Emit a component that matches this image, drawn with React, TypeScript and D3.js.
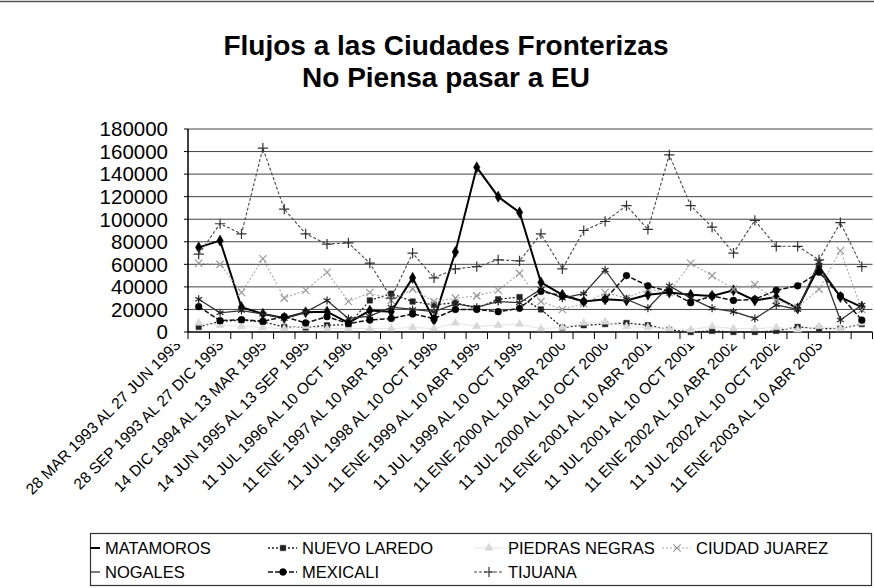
import React from 'react';
import * as d3 from 'd3';

const W = 874;
const H = 588;

// etiquetas del eje (una cada dos periodos)
const tickLabels = [
  '28 MAR 1993 AL 27 JUN 1993',
  '28 SEP 1993 AL 27 DIC 1993',
  '14 DIC 1994 AL 13 MAR 1995',
  '14 JUN 1995 AL 13 SEP 1995',
  '11 JUL 1996 AL 10 OCT 1996',
  '11 ENE 1997 AL 10 ABR 1997',
  '11 JUL 1998 AL 10 OCT 1998',
  '11 ENE 1999 AL 10 ABR 1999',
  '11 JUL 1999 AL 10 OCT 1999',
  '11 ENE 2000 AL 10 ABR 2000',
  '11 JUL 2000 AL 10 OCT 2000',
  '11 ENE 2001 AL 10 ABR 2001',
  '11 JUL 2001 AL 10 OCT 2001',
  '11 ENE 2002 AL 10 ABR 2002',
  '11 JUL 2002 AL 10 OCT 2002',
  '11 ENE 2003 AL 10 ABR 2003',
];

const yTicks = [0, 20000, 40000, 60000, 80000, 100000, 120000, 140000, 160000, 180000];

const matamoros = [75000, 81000, 22000, 16000, 12500, 17500, 18000, 8000, 19000, 18000, 48000, 10500, 71000, 146000, 120000, 106000, 44000, 33000, 27000, 29000, 28000, 33000, 35000, 33000, 32000, 37000, 28000, 31000, 21000, 58000, 31000, 22000];
const nuevoLaredo = [4500, 9500, 10500, 9000, 4500, 4000, 6000, 6500, 28000, 34000, 27000, 24000, 26000, 21000, 29000, 31000, 20000, 4000, 6000, 7000, 8000, 6000, 2000, 0, 1000, 0, 0, 1000, 4500, 3000, 3000, 7000];
const piedrasNegras = [8000, 6000, 5000, 4000, 3000, 5000, 3000, 3000, 3000, 3000, 4000, 3000, 8000, 5000, 6000, 7000, 3000, 4000, 8000, 9000, 5000, 4000, 3000, 2000, 5000, 3000, 3000, 4000, 2000, 5000, 3000, 8000];
const ciudadJuarez = [61000, 60000, 35000, 65000, 30000, 37000, 53000, 27000, 35000, 28000, 38000, 27000, 30000, 32000, 37000, 52000, 27000, 20000, 25000, 35000, 30000, 38000, 35000, 61000, 50000, 38000, 42000, 28000, 22000, 38000, 72000, 20000];
const nogales = [29000, 17000, 19000, 16000, 12000, 17700, 28000, 12000, 14000, 22000, 20000, 18000, 25000, 22000, 27000, 26000, 38000, 30000, 34000, 55000, 29000, 21000, 41000, 30000, 21000, 18000, 12000, 24000, 20000, 62000, 10600, 24000];
const mexicali = [22500, 10000, 11000, 9500, 13600, 8000, 13600, 7500, 10600, 12000, 16000, 12000, 20000, 20000, 18000, 21000, 36000, 32000, 27000, 29000, 50000, 41000, 36000, 26000, 32000, 28000, 29000, 37000, 41000, 53000, 32000, 10600];
const tijuana = [69000, 96000, 87000, 163000, 109000, 87000, 78000, 79000, 61000, 30000, 70000, 48000, 56000, 58000, 64000, 63000, 87000, 56000, 90000, 98000, 112000, 91000, 157000, 112000, 93000, 70000, 99000, 76000, 76000, 64000, 97000, 58000];

type Serie = {
  name: string;
  values: number[];
  stroke: string;
  width: number;
  dash?: string;
  symbol: d3.SymbolType;
  size: number;
  filled: boolean;
  mark: string;
};

const series: Serie[] = [
  { name: 'MATAMOROS', values: matamoros, stroke: '#000', width: 2, symbol: d3.symbolDiamond, size: 36, filled: true, mark: '#000' },
  { name: 'NUEVO LAREDO', values: nuevoLaredo, stroke: '#222', width: 1.3, dash: '2,2', symbol: d3.symbolSquare, size: 30, filled: true, mark: '#222' },
  { name: 'PIEDRAS NEGRAS', values: piedrasNegras, stroke: '#e4e4e4', width: 1, symbol: d3.symbolTriangle, size: 28, filled: true, mark: '#d8d8d8' },
  { name: 'CIUDAD JUAREZ', values: ciudadJuarez, stroke: '#a8a8a8', width: 1.1, dash: '2,2', symbol: d3.symbolTimes, size: 36, filled: false, mark: '#999' },
  { name: 'NOGALES', values: nogales, stroke: '#333', width: 1.3, symbol: d3.symbolAsterisk, size: 44, filled: false, mark: '#222' },
  { name: 'MEXICALI', values: mexicali, stroke: '#111', width: 1.5, dash: '5,2', symbol: d3.symbolCircle, size: 36, filled: true, mark: '#000' },
  { name: 'TIJUANA', values: tijuana, stroke: '#444', width: 1.1, dash: '3,2', symbol: d3.symbolPlus, size: 36, filled: false, mark: '#333' },
];

const legendOrder = [
  ['MATAMOROS', 'NUEVO LAREDO', 'PIEDRAS NEGRAS', 'CIUDAD JUAREZ'],
  ['NOGALES', 'MEXICALI', 'TIJUANA'],
];

const font = '"Liberation Sans", Arial, sans-serif';

export default function App() {
  const n = matamoros.length;
  const left = 188;
  const right = 872.5;
  const top = 129;
  const bottom = 332;

  const x = d3.scaleBand<number>().domain(d3.range(n)).range([left, right]);
  const xc = (i: number) => (x(i) as number) + x.bandwidth() / 2;
  const y = d3.scaleLinear().domain([0, 180000]).range([bottom, top]);

  const line = d3
    .line<number>()
    .x((_, i) => xc(i))
    .y((d) => y(d));

  const sym = (s: Serie) => d3.symbol(s.symbol, s.size)() as string;

  const boundaries = d3.range(n + 1).map((i) => left + i * x.bandwidth());

  const colX = [105, 302, 508, 696];
  const rowY = [548, 572];

  return (
    <svg
      width={W}
      height={H}
      style={{ position: 'absolute', left: 0, top: 0, background: '#fff' }}
      fontFamily={font}
    >
      <defs>
        <clipPath id="lblClip">
          <rect x={0} y={344} width={W} height={H - 344} />
        </clipPath>
        <clipPath id="legClip">
          <rect x={90} y={533} width={782} height={55} />
        </clipPath>
      </defs>
      <rect width={W} height={H} fill="#fff" />
      <line x1={0} x2={W} y1={1.5} y2={1.5} stroke="#555" strokeWidth={1.5} />

      {/* título */}
      <text x={446} y={55} textAnchor="middle" fontSize={28} fontWeight="bold">
        Flujos a las Ciudades Fronterizas
      </text>
      <text x={446} y={87} textAnchor="middle" fontSize={28} fontWeight="bold">
        No Piensa pasar a EU
      </text>

      {/* rejilla y eje y */}
      {yTicks.map((t) => (
        <g key={t}>
          {t > 0 && (
            <line x1={left} x2={right} y1={y(t)} y2={y(t)} stroke="#444" strokeWidth={1} />
          )}
          <line x1={left - 4} x2={left} y1={y(t)} y2={y(t)} stroke="#000" />
          <text x={168} y={y(t)} dy="0.36em" textAnchor="end" fontSize={20.5}>
            {t}
          </text>
        </g>
      ))}
      <line x1={left} x2={left} y1={top} y2={bottom} stroke="#000" strokeWidth={1.5} />
      <line x1={left} x2={right} y1={bottom} y2={bottom} stroke="#000" strokeWidth={1.5} />
      {boundaries.map((bx, i) => (
        <line key={i} x1={bx} x2={bx} y1={bottom} y2={bottom + 7} stroke="#000" />
      ))}

      {/* etiquetas del eje x */}
      <g clipPath="url(#lblClip)">
        {tickLabels.map((lab, k) => {
          const px = xc(k * 2) - 17;
          const py = 346;
          return (
            <text
              key={lab}
              transform={`translate(${px},${py}) rotate(-45)`}
              textAnchor="end"
              fontSize={15.5}
            >
              {lab}
            </text>
          );
        })}
      </g>

      {/* series */}
      {series.map((s) => (
        <g key={s.name}>
          <path
            d={line(s.values) as string}
            fill="none"
            stroke={s.stroke}
            strokeWidth={s.width}
            strokeDasharray={s.dash}
          />
          {s.values.map((v, i) => (
            <path
              key={i}
              d={sym(s)}
              transform={`translate(${xc(i)},${y(v)})`}
              fill={s.filled ? s.mark : 'none'}
              stroke={s.mark}
              strokeWidth={s.filled ? 0.5 : 1.2}
            />
          ))}
        </g>
      ))}

      {/* leyenda */}
      <rect x={90.5} y={533.5} width={781} height={52} fill="none" stroke="#333" strokeWidth={1.2} />
      <g clipPath="url(#legClip)">
        {legendOrder.map((row, r) =>
          row.map((name, c) => {
            const s = series.find((d) => d.name === name) as Serie;
            const tx = colX[c];
            const ty = rowY[r];
            return (
              <g key={name}>
                <line
                  x1={tx - 34}
                  x2={tx - 5}
                  y1={ty}
                  y2={ty}
                  stroke={s.stroke}
                  strokeWidth={s.width}
                  strokeDasharray={s.dash}
                />
                <path
                  d={sym(s)}
                  transform={`translate(${tx - 19},${ty})`}
                  fill={s.filled ? s.mark : 'none'}
                  stroke={s.mark}
                  strokeWidth={s.filled ? 0.5 : 1.2}
                />
                <text x={tx} y={ty} dy="0.36em" fontSize={16.5}>
                  {name}
                </text>
              </g>
            );
          })
        )}
      </g>
    </svg>
  );
}
